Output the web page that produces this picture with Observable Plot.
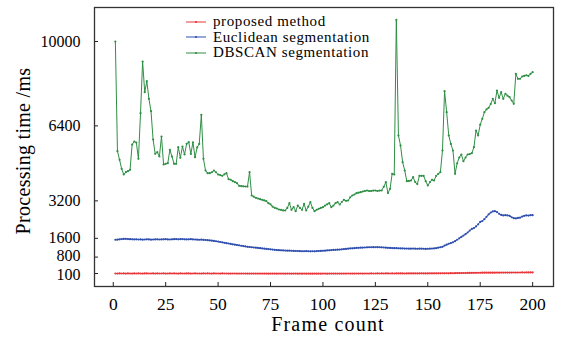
<!DOCTYPE html>
<html>
<head>
<meta charset="utf-8">
<script src="https://cdn.jsdelivr.net/npm/d3@7"></script>
<script src="https://cdn.jsdelivr.net/npm/@observablehq/plot@0.6"></script>
<style>
  html, body { margin: 0; padding: 0; background: #fff; }
  #wrap { position: relative; width: 568px; height: 340px; font-family: "Liberation Serif", "Times New Roman", serif; }
  #chart svg { display: block; }
  #legend { position: absolute; left: 186px; top: 14px; font-size: 15px; letter-spacing: 0.6px; color: #000; line-height: 15.5px; }
  #legend .row { display: flex; align-items: center; height: 15.5px; white-space: nowrap; }
  #legend svg { margin-right: 7px; }
</style>
</head>
<body>
<div id="wrap">
  <div id="chart"></div>
  <div id="legend"></div>
</div>
<script>
const seriesNames = ["proposed method", "Euclidean segmentation", "DBSCAN segmentation"];
const seriesColors = ["#e8363a", "#2f4fae", "#2f8f45"];
const xTicks = [0, 25, 50, 75, 100, 125, 150, 175, 200];
const yTicks = [100, 800, 1600, 3200, 6400, 10000];

const proposed = [
100,98,102,99,101,97,103,100,98,101,99,102,100,97,101,103,99,100,102,98,
101,99,100,103,98,100,102,99,101,100,97,102,100,99,103,101,98,100,102,99,
100,98,101,99,102,100,97,101,100,99,98,101,99,100,97,98,100,99,96,98,
97,99,96,98,95,97,96,98,95,97,96,95,97,94,96,95,97,94,96,95,
96,94,95,97,93,95,96,94,95,93,96,94,95,92,94,95,93,96,94,95,
96,94,97,95,96,98,95,97,96,98,97,99,96,98,97,99,98,100,97,99,
100,98,101,99,100,102,99,101,100,103,101,99,102,100,103,101,104,102,100,103,
104,102,105,103,101,104,106,103,105,104,107,105,108,106,109,107,110,108,111,109,
112,110,114,116,118,120,122,121,124,126,128,127,130,132,131,133,135,134,136,135,
137,136,138,137,139,138,140,139,141,140,142,141,143,142,144,143,145,144,146,145
];

const euclidean = [
1540,1545,1560,1570,1575,1580,1570,1565,1560,1555,
1560,1550,1555,1545,1550,1560,1555,1545,1550,1555,
1560,1550,1555,1560,1565,1555,1550,1560,1565,1570,
1560,1565,1570,1560,1555,1560,1565,1555,1550,1545,
1540,1545,1535,1530,1520,1510,1500,1490,1475,1460,
1445,1430,1410,1395,1380,1360,1345,1330,1315,1300,
1285,1270,1255,1240,1230,1220,1210,1200,1190,1180,
1170,1160,1150,1140,1130,1120,1110,1100,1095,1090,
1085,1080,1075,1075,1070,1065,1060,1060,1055,1050,
1050,1055,1050,1045,1050,1045,1055,1060,1065,1070,
1075,1085,1090,1100,1105,1110,1115,1120,1130,1140,
1150,1160,1170,1175,1180,1190,1195,1200,1205,1210,
1215,1220,1220,1225,1220,1225,1220,1215,1210,1200,
1195,1190,1185,1180,1180,1175,1170,1170,1165,1165,
1160,1160,1165,1160,1155,1160,1160,1155,1150,1155,
1160,1165,1170,1180,1200,1220,1240,1290,1330,1370,
1400,1430,1480,1540,1600,1660,1720,1780,1850,1930,
2000,2040,2110,2200,2300,2340,2420,2520,2620,2700,
2750,2760,2720,2650,2600,2580,2590,2580,2560,2500,
2460,2450,2470,2480,2530,2560,2580,2570,2590,2590
];

const dbscan = [
10000,5319,4952,4567,4324,4422,4465,4525,5605,5733,
5690,4994,6940,9146,7836,8305,7554,7025,5818,5208,
5276,5092,5946,4751,4780,4806,5378,5092,4780,4780,
5489,5036,5519,5178,5634,5703,5200,5700,5063,5480,
5630,6870,4994,4495,4380,4380,4420,4495,4420,4324,
4300,4269,4330,4380,4124,4100,4040,4000,3953,3842,
3830,3820,3812,3810,4422,3428,3380,3330,3300,3270,
3245,3220,3185,3100,3050,2950,2903,2874,2830,2818,
2790,2788,2900,3100,2818,2930,2758,3002,2900,2818,
3073,2788,2950,3142,2900,2758,2820,2861,2900,2930,
3000,3050,3100,2930,3000,3100,3142,3044,3150,3245,
3200,3215,3350,3428,3470,3526,3550,3569,3600,3620,
3642,3620,3620,3640,3642,3620,3640,3642,3800,3996,
3530,3714,4354,4324,10925,5989,5562,4849,4495,4038,
4050,4068,4209,4000,3915,4267,4270,4267,4038,3855,
4000,4098,4068,4267,4354,4422,5348,7879,6983,5989,
5630,5348,4354,4800,5050,5178,4892,5050,5178,5200,
5233,5489,6202,5989,6450,6701,6983,7100,7171,7330,
7554,7367,7909,7597,7836,7554,7768,7690,7623,7482,
7341,8621,8408,8410,8506,8530,8560,8530,8621,8690
];

const frames = d3.range(1, 201);
const seriesValues = [proposed, euclidean, dbscan];
const rows = [];
seriesValues.forEach((vals, s) => {
  vals.forEach((v, i) => rows.push({frame: frames[i], time: v, method: seriesNames[s]}));
});

const W = 568, H = 340, mL = 94, mR = 15, mT = 7, mB = 54;
const innerW = W - mL - mR, innerH = H - mT - mB;
const plain = d => String(d);
const yFont = 16;

const chart = Plot.plot({
  width: W, height: H,
  marginLeft: mL, marginRight: mR, marginTop: mT, marginBottom: mB,
  style: {fontFamily: '"Liberation Serif", "Times New Roman", serif', fontSize: "17px", background: "#fff", color: "#000", overflow: "visible"},
  x: {domain: [-8.95, 209.95]},
  y: {domain: [-455, 11451]},
  color: {domain: seriesNames, range: seriesColors},
  marks: [
    Plot.line(rows, {x: "frame", y: "time", z: "method", stroke: "method", strokeWidth: 1}),
    Plot.dot(rows, {x: "frame", y: "time", fill: "method", r: 1.1, stroke: null}),
    Plot.tickX(xTicks, {x: d => d, insetTop: innerH - 4, stroke: "#222", strokeWidth: 1}),
    Plot.tickY(yTicks, {y: d => d, insetRight: innerW - 4, stroke: "#222", strokeWidth: 1}),
    Plot.axisX(xTicks, {tickSize: 0, tickPadding: 11, fontSize: 17.5, tickFormat: plain, label: null}),
    Plot.axisY(yTicks.filter(t => t !== 100 && t !== 800), {tickSize: 0, tickPadding: 14, fontSize: yFont, tickFormat: plain, label: null}),
    Plot.axisY([800], {tickSize: 0, tickPadding: 14, fontSize: yFont, tickFormat: plain, label: null, dy: -1.5}),
    Plot.axisY([100], {tickSize: 0, tickPadding: 14, fontSize: yFont, tickFormat: plain, label: null, dy: 1.5}),
    Plot.frame({stroke: "#333", strokeWidth: 1.3}),
    Plot.text(["Frame count"], {text: d => d, frameAnchor: "bottom", textAnchor: "middle", lineAnchor: "middle", dx: 4, dy: 38, fontSize: 20, fill: "#000"}),
    Plot.text(["Processing time /ms"], {text: d => d, frameAnchor: "left", textAnchor: "middle", lineAnchor: "middle", rotate: -90, dx: -71, dy: 4, fontSize: 20, fill: "#000"})
  ]
});
document.getElementById("chart").appendChild(chart);

// light letter-spacing on the axis titles, as the reference serif is wider than Liberation Serif
d3.select(chart).selectAll('g[aria-label="text"] text').each(function() {
  const t = this.textContent;
  this.style.letterSpacing = t === "Frame count" ? "1.2px" : "0.3px";
});

const legend = document.getElementById("legend");
seriesNames.forEach((name, i) => {
  const row = document.createElement("div");
  row.className = "row";
  row.innerHTML = `<svg width="20" height="6"><line x1="0" x2="20" y1="3" y2="3" stroke="${seriesColors[i]}" stroke-width="1"/><circle cx="10" cy="3" r="1.1" fill="${seriesColors[i]}"/></svg><span>${name}</span>`;
  legend.appendChild(row);
});
</script>
</body>
</html>
